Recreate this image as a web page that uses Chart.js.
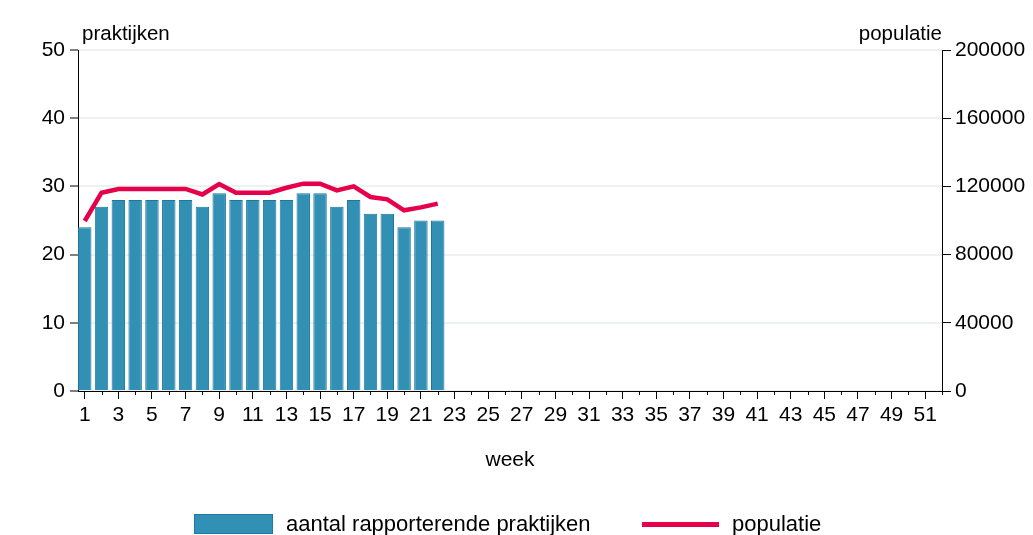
<!DOCTYPE html>
<html>
<head>
<meta charset="utf-8">
<script src="https://cdn.jsdelivr.net/npm/chart.js@4/dist/chart.umd.min.js"></script>
<style>
  body { margin: 0; background: #fff; }
  #wrap { position: relative; width: 1033px; height: 535px; font-family: 'Liberation Sans', Arial, sans-serif; }
  #chart { position: absolute; left: 0; top: 0; }
  .lg { position: absolute; font-size: 22px; line-height: 22px; color: #000; white-space: nowrap; }
</style>
</head>
<body>
<div id="wrap">
  <canvas id="chart" width="1033" height="535"></canvas>
  <div class="lg" style="left:194px; top:514px; width:77px; height:18px; background:#3290b5; border:1px solid #1c79a1;"></div>
  <div class="lg" style="left:286px; top:513px;">aantal rapporterende praktijken</div>
  <div class="lg" style="left:642px; top:522px; width:77px; height:5px; background:#e6004c;"></div>
  <div class="lg" style="left:732px; top:513px;">populatie</div>
</div>
<script>
// weeks on the x axis
const weeks = [1, 2, 3, 4, 5, 6, 7, 8, 9, 10, 11, 12, 13, 14, 15, 16, 17, 18, 19, 20,
  21, 22, 23, 24, 25, 26, 27, 28, 29, 30, 31, 32, 33, 34, 35, 36, 37, 38, 39, 40,
  41, 42, 43, 44, 45, 46, 47, 48, 49, 50, 51, 52];

// reported weeks so far
const reportWeeks = [1, 2, 3, 4, 5, 6, 7, 8, 9, 10, 11, 12, 13, 14, 15, 16, 17, 18, 19, 20, 21, 22];
const praktijken = [24, 27, 28, 28, 28, 28, 28, 27, 29, 28, 28, 28, 28, 29, 29, 27, 28, 26, 26, 24, 25, 25];
const populatie = [99700, 116300, 118500, 118500, 118500, 118500, 118500, 115300, 121400, 116300, 116300,
  116300, 119200, 121600, 121600, 117700, 120000, 113800, 112400, 106000, 107700, 109900];

const leftTicks = [0, 10, 20, 30, 40, 50];
const rightTicks = [0, 40000, 80000, 120000, 160000, 200000];

const FONT = 'Liberation Sans';
Chart.defaults.font.family = FONT;
Chart.defaults.color = '#000';

// axis titles and the short ticks for the even weeks
const extras = {
  id: 'extras',
  afterDraw(chart) {
    const c = chart.ctx;
    const area = chart.chartArea;
    const x = chart.scales.x;
    c.save();
    c.strokeStyle = '#000';
    c.lineWidth = 1;
    weeks.filter(w => w % 2 === 0).forEach(w => {
      const px = Math.round(x.getPixelForValue(w)) + 0.5;
      c.beginPath();
      c.moveTo(px, area.bottom);
      c.lineTo(px, area.bottom + 4);
      c.stroke();
    });
    c.fillStyle = '#000';
    c.textBaseline = 'alphabetic';
    c.font = '20.5px ' + FONT;
    c.textAlign = 'left';
    c.fillText('praktijken', area.left + 4, 40);
    c.textAlign = 'right';
    c.fillText('populatie', area.right, 40);
    c.font = '21px ' + FONT;
    c.textAlign = 'center';
    c.fillText('week', (area.left + area.right) / 2, 466);
    c.restore();
  }
};

new Chart(document.getElementById('chart'), {
  type: 'bar',
  data: {
    datasets: [
      {
        type: 'line',
        label: 'populatie',
        data: reportWeeks.map((w, i) => ({x: w, y: populatie[i]})),
        yAxisID: 'y1',
        borderColor: '#e6004c',
        borderWidth: 4.5,
        pointRadius: 0,
        tension: 0,
        order: 0
      },
      {
        label: 'aantal rapporterende praktijken',
        data: reportWeeks.map((w, i) => ({x: w, y: praktijken[i]})),
        yAxisID: 'y',
        backgroundColor: '#3290b5',
        borderColor: '#1a77a0',
        borderWidth: 1,
        barPercentage: 0.8,
        categoryPercentage: 1,
        order: 1
      }
    ]
  },
  options: {
    responsive: false,
    devicePixelRatio: 1,
    animation: false,
    layout: {padding: {top: 50, left: 0, right: 0, bottom: 0}},
    plugins: {legend: {display: false}, tooltip: {enabled: false}},
    scales: {
      x: {
        type: 'linear',
        min: 0.6,
        max: 52,
        offset: false,
        afterBuildTicks(scale) { scale.ticks = weeks.map(v => ({value: v})); },
        afterFit(scale) { scale.height = 144; },
        ticks: {
          autoSkip: false,
          maxRotation: 0,
          padding: 4,
          font: {size: 21},
          callback: v => (v % 2 === 1 ? String(v) : '')
        },
        grid: {
          offset: false,
          drawOnChartArea: false,
          tickLength: 8,
          tickWidth: 1,
          tickColor: ctx => (ctx.tick && ctx.tick.value % 2 === 1 ? '#000' : 'rgba(0,0,0,0)')
        },
        border: {display: true, color: '#000', width: 1}
      },
      y: {
        position: 'left',
        min: 0,
        max: 50,
        afterBuildTicks(scale) { scale.ticks = leftTicks.map(v => ({value: v})); },
        afterFit(scale) { scale.width = 78; },
        ticks: {padding: 5, font: {size: 21}},
        grid: {color: '#ecf2f2', lineWidth: 2, tickColor: '#000', tickWidth: 1, tickLength: 8},
        border: {display: true, color: '#000', width: 1}
      },
      y1: {
        position: 'right',
        min: 0,
        max: 200000,
        afterBuildTicks(scale) { scale.ticks = rightTicks.map(v => ({value: v})); },
        afterFit(scale) { scale.width = 91; },
        ticks: {padding: 4, font: {size: 21}, callback: v => String(v)},
        grid: {drawOnChartArea: false, tickColor: '#000', tickWidth: 1, tickLength: 9},
        border: {display: true, color: '#000', width: 1}
      }
    }
  },
  plugins: [extras]
});
</script>
</body>
</html>
